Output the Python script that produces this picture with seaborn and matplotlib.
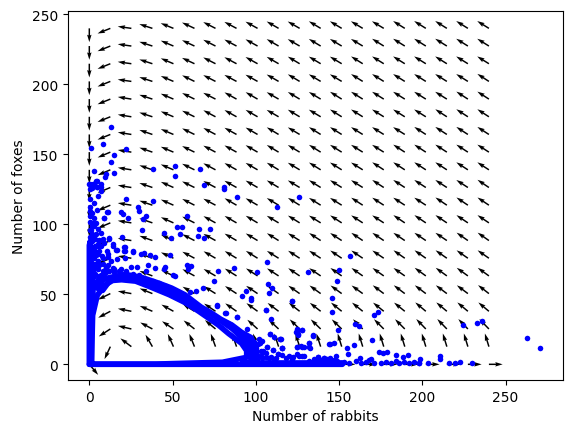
import matplotlib
matplotlib.use("Agg")
import matplotlib.pyplot as plt
import numpy as np
import seaborn as sns

# arrow grid (rabbits across, foxes up)
grid_rabbits = [0, 12.63, 25.26, 37.89, 50.53, 63.16, 75.79, 88.42, 101.05, 113.68,
                126.32, 138.95, 151.58, 164.21, 176.84, 189.47, 202.11, 214.74, 227.37, 240]
grid_foxes = grid_rabbits

# arrow direction in degrees, bottom row first
arrow_deg = [
    [-50, 0, 0, 0, 0, 0, 0, 0, 0, 0, 0, 0, 0, 0, 0, 0, 0, 0, 0, 0],
    [-90, 245, 143, 120, 114, 112, 110, 109, 109, 108, 108, 108, 107, 107, 107, 107, 107, 107, 107, 107],
    [-90, 213, 167, 152, 146, 142, 140, 139, 138, 137, 136, 136, 136, 135, 135, 135, 134, 134, 134, 134],
    [-90, 208, 169, 157, 151, 148, 146, 145, 144, 143, 142, 142, 141, 141, 141, 141, 140, 140, 140, 140],
    [-90, 206, 170, 158, 153, 150, 148, 147, 146, 145, 145, 144, 144, 144, 143, 143, 143, 143, 143, 142],
    [-90, 205, 171, 159, 154, 151, 150, 148, 147, 147, 146, 146, 145, 145, 145, 145, 144, 144, 144, 144],
    [-90, 204, 171, 160, 155, 152, 150, 149, 148, 148, 147, 147, 146, 146, 146, 145, 145, 145, 145, 145],
    [-90, 204, 171, 160, 155, 153, 151, 150, 149, 148, 148, 147, 147, 146, 146, 146, 146, 146, 145, 145],
    [-90, 203, 171, 161, 156, 153, 151, 150, 149, 149, 148, 148, 147, 147, 147, 146, 146, 146, 146, 146],
    [-90, 203, 171, 161, 156, 153, 152, 150, 150, 149, 148, 148, 148, 147, 147, 147, 147, 146, 146, 146],
    [-90, 203, 171, 161, 156, 154, 152, 151, 150, 149, 149, 148, 148, 148, 147, 147, 147, 147, 147, 146],
    [-90, 203, 171, 161, 157, 154, 152, 151, 150, 149, 149, 148, 148, 148, 147, 147, 147, 147, 147, 147],
    [-90, 203, 171, 161, 157, 154, 152, 151, 150, 149, 149, 148, 148, 148, 148, 147, 147, 147, 147, 147],
    [-90, 202, 171, 161, 157, 154, 152, 151, 150, 149, 149, 148, 148, 148, 148, 148, 147, 147, 147, 147],
    [-90, 202, 171, 162, 157, 154, 152, 151, 150, 150, 149, 149, 148, 148, 148, 148, 148, 147, 147, 147],
    [-90, 202, 171, 162, 157, 154, 153, 151, 150, 150, 149, 149, 148, 148, 148, 148, 148, 148, 147, 147],
    [-90, 202, 172, 162, 157, 154, 153, 152, 151, 150, 149, 149, 149, 148, 148, 148, 148, 148, 148, 147],
    [-90, 202, 172, 162, 157, 155, 153, 152, 151, 150, 149, 149, 149, 148, 148, 148, 148, 148, 148, 148],
    [-90, 202, 172, 162, 157, 155, 153, 152, 151, 150, 150, 149, 149, 149, 148, 148, 148, 148, 148, 148],
    [-90, 202, 172, 162, 158, 155, 153, 152, 151, 150, 150, 149, 149, 149, 149, 148, 148, 148, 148, 148],
]

# scattered simulation end points
rabbits = [
    13.2, 8.4, 1.2, 22, 15, 13.2, 3, 10, 9.6, 14.6, 38.4, 51.6, 51.6, 66.6, 69, 81, 0, 4.2, 2.8, 7.2, 4.4, 0.8,
    125.9, 156.5, 131.3, 149.9, 148.7, 145.7, 121.7, 145.7, 173.3, 170.9, 159.5, 161.9, 149.3, 224.3, 232.7,
    235.7, 262.7, 270.5, 124.7, 127.7, 123.9, 125.3, 134.3, 114.9, 131.7, 144.7, 147.1, 169.7, 158.9, 154.7,
    115.9, 124.7, 127.1, 128.7, 132.5, 155.3, 173.9, 176.3, 178.7, 184.1, 191.3, 188.3, 198.7, 210.5, 210.5,
    222.5, 219.5, 215.9, 229.7, 203.3, 197.9, 137.3, 140.9, 144.7, 148.3, 127.7, 122.3, 162.3, 169.1,
    76.4, 81.8, 89, 95, 97.4, 106.4, 109.4, 122, 124.6, 127.6, 125.6, 108.8, 111.2, 114.4, 134.4, 132, 124.8,
    128, 131.8, 115.8, 103.6, 102.4, 107, 104.4, 110.4, 113.4, 137.4, 141.2, 144,
    21.8, 38.4, 81, 88.8, 112.8, 11, 29, 30, 18.8, 20.4, 9, 23.4, 34.2, 32.4, 58.8, 31.8, 52.8, 55.8, 66, 72.6,
    45, 49.2, 54.6, 65.4, 69, 19.8, 12, 48.6, 26.4, 31.2, 33, 36.6, 39.6, 21.6, 21.6, 16.8, 21.6, 16.2, 10.8,
    14.4, 106.8, 87, 77.4, 100.8, 58.8, 61.2, 59.4, 45.6, 45, 35.4, 34.2, 39.6, 25.2, 28.8, 19.2, 15, 10.2,
    50.4, 51.6, 75, 107.4, 109.8, 68.4, 64.2, 60.6, 108, 94.2, 91.8, 97.2, 106.2, 76.4, 81.6, 88.8, 108.8,
    114.6, 103.2, 101.4, 106.8, 110.4, 104.4, 115.8, 113.4,
    4.4, 0.2, 2.4, 4.4, 7.2, 7.2, 5, 0.2, 1.4, 0.2, 3, 0.2, 4.8, 10.8, 9, 0.2, 1.4, 0.2, 3, 0.2, 3.8, 1.4, 0.2,
    1.4, 0.2, 3.4, 1.4, 5.8, 8.4, 12, 14.4, 0.2, 0.2, 3.4, 5.4, 1.4, 3.8, 7.4, 11.4, 11.4, 0.2, 2.4, 0.2, 3.4,
    5.8, 0.2, 2.4, 5.4, 0.2, 3.4, 10.2, 10.2, 16.4, 21, 21, 26.4,
    132, 135, 138, 141, 143, 146, 149, 151, 153, 156, 160, 163, 166, 168, 171, 175, 178, 181, 184, 186, 189,
    192, 195, 198, 106, 112, 118, 122, 126, 116, 120, 125, 129, 103, 109, 135, 139, 143, 147,
    # denser cloud by the fox axis and on the upper edge of the band
    1, 3, 5, 7, 2, 4, 6, 8, 1, 3, 5, 2, 4, 6, 8, 3, 5, 7, 9, 2, 4, 6, 1, 3, 5, 7, 4, 6, 2, 5,
    9, 12, 15, 18, 22, 26, 30, 34, 38, 42, 46, 8, 11, 14, 5, 7, 13, 3, 6,
    97, 100, 103, 106, 101, 104, 108, 111, 99, 102,
]
foxes = [
    168.5, 156.6, 153.5, 152.8, 149, 144, 137.5, 135, 133, 136, 139, 140.6, 134, 139, 127, 125.6, 127.8, 130, 128, 126, 125.6, 125.6,
    118.4, 76.3, 64.9, 66.3, 58.4, 46.3, 44.2, 36.3, 36.3, 34.2, 27.7, 26.8, 23.4, 27, 28.4,
    29.9, 17.7, 10.6, 23, 23.4, 22, 19.9, 19.9, 17, 14.2, 13.4, 14.2, 16.3, 12.7, 10.6,
    10.6, 11.3, 12, 11.8, 10.6, 6.3, 7.7, 7.3, 7.7, 5.6, 5.6, 4.2, 2.7, 4.9, 2.7,
    0.6, 0, 0, 0, 0, 0, 4.2, 3.4, 3.4, 4.9, 4.9, 4.2, 3.4, 3,
    41.6, 35.7, 32.8, 24.2, 45.4, 38, 31.6, 44.2, 24.5, 23.5, 20.9, 20.9, 18.5, 17.1, 19.7, 14.2, 11.4,
    11.4, 11.4, 10.7, 15.7, 14.2, 11.4, 8.5, 9.5, 6.4, 4.2, 3.5, 13.5,
    117, 115.6, 124.4, 119, 111.3, 107.7, 111.3, 108.5, 107.7, 106.5, 103.5, 103.5, 104.9, 102.8, 104.9, 94.9, 97, 97, 95.6, 95.6,
    92.8, 89.1, 92, 90.6, 89.1, 89.9, 89.1, 77, 79.9, 77.8, 78.7, 77, 75.6, 82.8, 79.9, 74.2, 74.9, 80.6, 79.9,
    83.9, 72, 67.8, 65.6, 64.9, 69.9, 69.2, 67, 68.5, 67, 69.9, 65.6, 67.7, 68.5, 68.5, 67, 64.9, 67.8,
    63, 62, 58.5, 56.3, 53.5, 53.5, 51.4, 50.6, 49.9, 51.3, 47.7, 46.3, 37.8, 41, 35.6, 32.7, 20.6,
    17, 15.6, 13.4, 11.3, 9.2, 7.7, 10.6, 6.6,
    129.9, 127.8, 127.8, 125.6, 127.8, 122.8, 119.2, 124.2, 124.9, 117, 114.2, 111.3, 109.2, 107.8, 103.5, 109, 107, 104.9, 104, 100.6, 100, 97.8, 94.9,
    92, 89.9, 89, 87.5, 87, 88.5, 89, 85.4, 86.4, 82.7, 84, 83.4, 80.4, 79.2, 76.8, 78, 75.6, 75.6, 75.6, 72, 70.9,
    70.9, 68.5, 67.2, 67.2, 64.9, 63.7, 67.8, 65, 80.6, 83, 80.4, 79.5,
    1.5, 0.5, 2, 0.5, 1, 0.5, 1.5, 0.3, 1, 0.5, 1.5, 0.5, 1, 2, 0.5, 0.5, 1, 0.5, 1.5, 0.5, 1,
    0.5, 1, 0.5, 4.5, 3.5, 4, 3, 5, 6, 5.5, 6.5, 5, 5.5, 4.5, 3, 2.5, 3, 2,
    60, 62, 60, 63, 66, 68, 70, 66, 72, 75, 73, 78, 77, 80, 75, 82, 85, 84, 86, 90, 92, 88, 95, 98, 96, 93, 58, 62, 100, 78,
    64, 66, 67, 66, 66, 64, 63, 60, 59, 57, 55, 71, 70, 68, 58, 57, 73, 83, 55,
    13, 11, 9, 7, 6, 4, 4, 3, 15, 17,
]

# solid band of the limit cycle, traced by eye
outer_rabbits = [0.5, 5, 11.4, 21.4, 31.4, 41.4, 49.4, 57.4, 67, 73, 79, 85.6, 91.4, 97.2, 100, 100.8, 101]
outer_foxes = [55, 58, 61, 63.5, 61.3, 57.3, 53.7, 48.9, 40.2, 36.1, 31.4, 27.3, 22.1, 18.3, 11.9, 4, 0]
inner_rabbits = [1.3, 2, 4.8, 9.6, 14, 19.4, 27.8, 36, 48, 58.2, 65.8, 71.6, 77.6, 83.6, 91.4, 94.5, 94.5, 80, 40, 1.3]
inner_foxes = [0, 35, 49.4, 56.8, 59.9, 60.4, 59.4, 55.6, 49.7, 43.7, 37.8, 33, 28, 22, 15, 9.7, 5, 1.5, 0.2, 0.2]
mid_rabbits = [2, 8, 12, 18, 26, 34, 43, 52, 60, 68, 74, 80, 86, 91, 95, 97, 97]
mid_foxes = [55, 52, 58.5, 62, 61.5, 58, 54, 49, 44.5, 39, 34.5, 29.5, 24.5, 19, 14, 8, 3]
tip_rabbits = [86, 90, 94, 97, 98, 97, 96, 95, 92, 89, 93, 97, 99, 98, 96]
tip_foxes = [25, 22, 18, 14, 9, 4, 9, 14, 19, 23, 19, 13, 8, 2, 6]
left_rabbits = [0, 0, 0.6, 0.6, 1.3, 1.3, 2.2, 2.2]
left_foxes = [0, 85, 88, 0, 0, 60, 70, 45]
bottom_rabbits = [0, 100, 130, 152, 152, 100, 92]
bottom_foxes = [0, 0, 0, 0, 1, 1, 1.2]

# fox readings above were taken about one pixel high
FOX_READ_OFFSET = 0.8

fig = plt.figure(figsize=(5.72, 4.35), dpi=100)
ax = fig.add_axes([67.5 / 572, 54 / 435, 495.5 / 572, 369 / 435])

rad = np.deg2rad(np.array(arrow_deg))
gx, gy = np.meshgrid(grid_rabbits, grid_foxes)
ax.quiver(gx, gy, np.cos(rad), np.sin(rad), zorder=1)

for lx, ly in [(outer_rabbits, outer_foxes), (mid_rabbits, mid_foxes), (tip_rabbits, tip_foxes)]:
    sns.lineplot(x=lx, y=np.array(ly) + FOX_READ_OFFSET, ax=ax, sort=False, estimator=None, color="b",
                 linewidth=4, zorder=2, solid_capstyle="round")
for lx, ly in [(inner_rabbits, inner_foxes), (left_rabbits, left_foxes), (bottom_rabbits, bottom_foxes)]:
    sns.lineplot(x=lx, y=ly, ax=ax, sort=False, estimator=None, color="b", linewidth=4, zorder=2,
                 solid_capstyle="round")
sns.scatterplot(x=rabbits, y=np.array(foxes) + FOX_READ_OFFSET, ax=ax, color="b", s=16, linewidth=0, zorder=3)

ax.set_xlim(-13.1, 284.5)
ax.set_ylim(-11.2, 252.4)
ax.set_xlabel("Number of rabbits")
ax.set_ylabel("Number of foxes")
fig.savefig("out.png", dpi=100)
